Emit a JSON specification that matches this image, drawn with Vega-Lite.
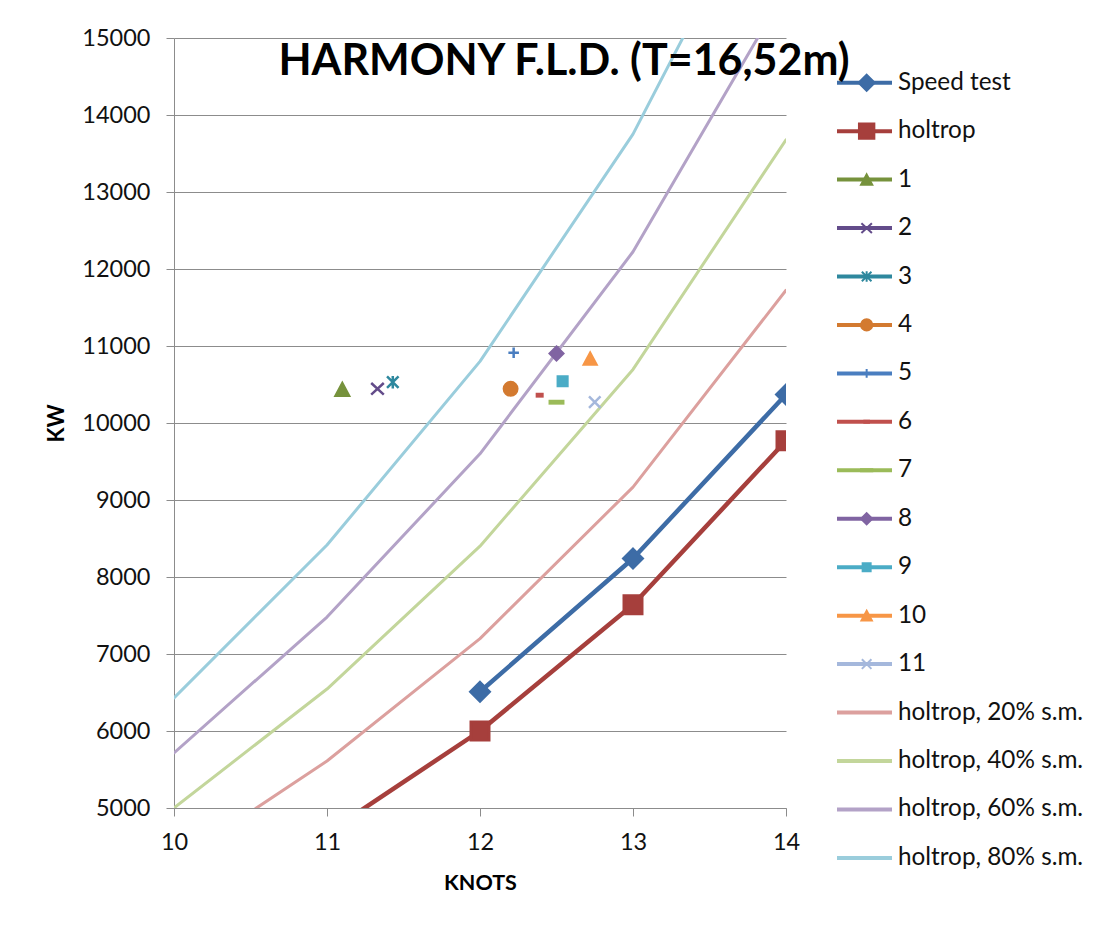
{
  "$schema": "https://vega.github.io/schema/vega-lite/v6.json",
  "width": 612,
  "height": 770,
  "autosize": {"type": "none"},
  "padding": {"left": 174, "top": 38, "right": 324, "bottom": 118},
  "background": "white",
  "title": {
    "text": "HARMONY F.L.D. (T=16,52m)",
    "font": "Lato",
    "fontSize": 43,
    "fontWeight": "bold",
    "color": "#000000",
    "anchor": "middle",
    "dx": 84,
    "offset": 0,
    "baseline": "alphabetic",
    "dy": 92
  },
  "config": {"view": {"stroke": null}, "font": "Lato"},
  "data": {
    "values": [
      {"series": "Speed test", "knots": 12, "kw": 6510},
      {"series": "Speed test", "knots": 13, "kw": 8240},
      {"series": "Speed test", "knots": 14, "kw": 10370},
      {"series": "holtrop", "knots": 10, "kw": 3572},
      {"series": "holtrop", "knots": 11, "kw": 4675},
      {"series": "holtrop", "knots": 12, "kw": 6000},
      {"series": "holtrop", "knots": 13, "kw": 7640},
      {"series": "holtrop", "knots": 14, "kw": 9770},
      {"series": "1", "knots": 11.10, "kw": 10435},
      {"series": "2", "knots": 11.33, "kw": 10444},
      {"series": "3", "knots": 11.43, "kw": 10530},
      {"series": "4", "knots": 12.20, "kw": 10444},
      {"series": "5", "knots": 12.22, "kw": 10912},
      {"series": "6", "knots": 12.39, "kw": 10361},
      {"series": "7", "knots": 12.50, "kw": 10270},
      {"series": "8", "knots": 12.50, "kw": 10903},
      {"series": "9", "knots": 12.54, "kw": 10543},
      {"series": "10", "knots": 12.72, "kw": 10834},
      {"series": "11", "knots": 12.75, "kw": 10270},
      {"series": "holtrop, 20% s.m.", "knots": 10, "kw": 4286},
      {"series": "holtrop, 20% s.m.", "knots": 11, "kw": 5610},
      {"series": "holtrop, 20% s.m.", "knots": 12, "kw": 7200},
      {"series": "holtrop, 20% s.m.", "knots": 13, "kw": 9168},
      {"series": "holtrop, 20% s.m.", "knots": 14, "kw": 11724},
      {"series": "holtrop, 40% s.m.", "knots": 10, "kw": 5001},
      {"series": "holtrop, 40% s.m.", "knots": 11, "kw": 6545},
      {"series": "holtrop, 40% s.m.", "knots": 12, "kw": 8400},
      {"series": "holtrop, 40% s.m.", "knots": 13, "kw": 10696},
      {"series": "holtrop, 40% s.m.", "knots": 14, "kw": 13678},
      {"series": "holtrop, 60% s.m.", "knots": 10, "kw": 5715},
      {"series": "holtrop, 60% s.m.", "knots": 11, "kw": 7480},
      {"series": "holtrop, 60% s.m.", "knots": 12, "kw": 9600},
      {"series": "holtrop, 60% s.m.", "knots": 13, "kw": 12224},
      {"series": "holtrop, 60% s.m.", "knots": 14, "kw": 15632},
      {"series": "holtrop, 80% s.m.", "knots": 10, "kw": 6430},
      {"series": "holtrop, 80% s.m.", "knots": 11, "kw": 8415},
      {"series": "holtrop, 80% s.m.", "knots": 12, "kw": 10800},
      {"series": "holtrop, 80% s.m.", "knots": 13, "kw": 13752},
      {"series": "holtrop, 80% s.m.", "knots": 14, "kw": 17586}
    ]
  },
  "encoding": {
    "x": {
      "field": "knots",
      "type": "quantitative",
      "scale": {"domain": [10, 14], "nice": false, "zero": false},
      "axis": {
        "values": [10, 11, 12, 13, 14],
        "format": "d",
        "grid": false,
        "labelFlush": false,
        "domainColor": "#8C8C8C",
        "tickColor": "#8C8C8C",
        "tickSize": 8,
        "labelFont": "Lato",
        "labelFontSize": 23.5,
        "labelColor": "#111111",
        "labelPadding": 14,
        "title": "KNOTS",
        "titleFont": "Lato",
        "titleFontSize": 21.5,
        "titleFontWeight": "bold",
        "titleColor": "#000000",
        "titlePadding": 19
      }
    },
    "y": {
      "field": "kw",
      "type": "quantitative",
      "scale": {"domain": [5000, 15000], "nice": false, "zero": false},
      "axis": {
        "values": [5000, 6000, 7000, 8000, 9000, 10000, 11000, 12000, 13000, 14000, 15000],
        "format": "d",
        "grid": true,
        "labelFlush": false,
        "gridColor": "#8C8C8C",
        "gridWidth": 1,
        "domainColor": "#8C8C8C",
        "tickColor": "#8C8C8C",
        "tickSize": 8,
        "labelFont": "Lato",
        "labelFontSize": 23.5,
        "labelColor": "#111111",
        "labelPadding": 16,
        "title": "KW",
        "titleFont": "Lato",
        "titleFontSize": 22,
        "titleFontWeight": "bold",
        "titleColor": "#000000",
        "titlePadding": 13
      }
    }
  },
  "layer": [
    {
      "transform": [
        {"filter": {"field": "series", "oneOf": ["Speed test", "holtrop", "holtrop, 20% s.m.", "holtrop, 40% s.m.", "holtrop, 60% s.m.", "holtrop, 80% s.m."]}}
      ],
      "mark": {"type": "line", "clip": true, "strokeCap": "round", "strokeJoin": "round"},
      "encoding": {
        "color": {
          "field": "series",
          "type": "nominal",
          "scale": {
            "domain": ["Speed test", "holtrop", "1", "2", "3", "4", "5", "6", "7", "8", "9", "10", "11", "holtrop, 20% s.m.", "holtrop, 40% s.m.", "holtrop, 60% s.m.", "holtrop, 80% s.m."],
            "range": ["#3D6CA6", "#A63F3C", "#76923C", "#634C8A", "#2E889E", "#D37A30", "#4A7EC0", "#C0504D", "#9BBB59", "#8064A2", "#4BACC6", "#F79646", "#A5B8DC", "#DCA09E", "#C3D69B", "#B3A2C7", "#9ACDDC"]
          },
          "legend": {
            "orient": "none",
            "legendX": 661,
            "legendY": 32.7,
            "title": null,
            "padding": 0,
            "symbolType": "stroke",
            "symbolSize": 3025,
            "symbolStrokeWidth": 4,
            "clipHeight": 24,
            "rowPadding": 23.45,
            "labelFont": "Lato",
            "labelFontSize": 24.3,
            "labelColor": "#111111",
            "labelOffset": 4,
            "labelLimit": 400
          }
        },
        "strokeWidth": {"condition": {"test": "indexof(datum.series, '%') >= 0", "value": 3}, "value": 4.5}
      }
    },
    {
      "transform": [
        {"filter": {"field": "series", "oneOf": ["Speed test", "holtrop", "1", "2", "3", "4", "5", "6", "7", "8", "9", "10", "11"]}}
      ],
      "mark": {"type": "point", "clip": true, "filled": true, "size": 144, "strokeWidth": 2.5, "opacity": 1},
      "encoding": {
        "stroke": {
          "field": "series",
          "type": "nominal",
          "scale": {
            "domain": ["Speed test", "holtrop", "1", "2", "3", "4", "5", "6", "7", "8", "9", "10", "11"],
            "range": ["#3D6CA6", "#A63F3C", "#76923C", "#634C8A", "#2E889E", "#D37A30", "#4A7EC0", "#C0504D", "#9BBB59", "#8064A2", "#4BACC6", "#F79646", "#A5B8DC"]
          },
          "legend": {
            "orient": "none",
            "legendX": 680.5,
            "legendY": 32.7,
            "title": null,
            "padding": 0,
            "symbolSize": 100,
            "symbolStrokeWidth": 2,
            "clipHeight": 24,
            "rowPadding": 23.45,
            "labelFont": "Lato",
            "labelFontSize": 24.3,
            "labelColor": "transparent",
            "labelExpr": "' '",
            "labelLimit": 400
          }
        },
        "fill": {
          "field": "series",
          "type": "nominal",
          "scale": {
            "domain": ["Speed test", "holtrop", "1", "2", "3", "4", "5", "6", "7", "8", "9", "10", "11"],
            "range": ["#3D6CA6", "#A63F3C", "#76923C", "#634C8A", "#2E889E", "#D37A30", "#4A7EC0", "#C0504D", "#9BBB59", "#8064A2", "#4BACC6", "#F79646", "#A5B8DC"]
          },
          "legend": {
            "orient": "none",
            "legendX": 680.5,
            "legendY": 32.7,
            "title": null,
            "padding": 0,
            "symbolSize": 100,
            "symbolStrokeWidth": 2,
            "clipHeight": 24,
            "rowPadding": 23.45,
            "labelFont": "Lato",
            "labelFontSize": 24.3,
            "labelColor": "transparent",
            "labelExpr": "' '",
            "labelLimit": 400
          }
        },
        "shape": {
          "field": "series",
          "type": "nominal",
          "scale": {
            "domain": ["Speed test", "holtrop", "1", "2", "3", "4", "5", "6", "7", "8", "9", "10", "11"],
            "range": [
              "M0,-1.62L1.62,0L0,1.62L-1.62,0Z",
              "M-1.54,-1.54H1.54V1.54H-1.54Z",
              "M0,-1.05L1.12,1.03L-1.12,1.03Z",
              "M-1.05,-0.97L1.05,0.97M-1.05,0.97L1.05,-0.97",
              "M-0.96,-0.96L0.96,0.96M-0.96,0.96L0.96,-0.96M0,-1.05L0,1.05",
              "M1.12,0A1.12,1.12,0,1,1,-1.12,0A1.12,1.12,0,1,1,1.12,0Z",
              "M-0.88,0H0.88M0,-0.88V0.88",
              "M-0.46,-0.2H0.46V0.2H-0.46Z",
              "M-1.12,-0.2H1.12V0.2H-1.12Z",
              "M0,-1.12L1.12,0L0,1.12L-1.12,0Z",
              "M-0.8,-0.8H0.8V0.8H-0.8Z",
              "M0,-0.98L1.04,0.95L-1.04,0.95Z",
              "M-0.96,-0.96L0.96,0.96M-0.96,0.96L0.96,-0.96"
            ]
          },
          "legend": {
            "orient": "none",
            "legendX": 680.5,
            "legendY": 32.7,
            "title": null,
            "padding": 0,
            "symbolSize": 100,
            "symbolStrokeWidth": 2,
            "clipHeight": 24,
            "rowPadding": 23.45,
            "labelFont": "Lato",
            "labelFontSize": 24.3,
            "labelColor": "transparent",
            "labelExpr": "' '",
            "labelLimit": 400
          }
        }
      }
    }
  ]
}
